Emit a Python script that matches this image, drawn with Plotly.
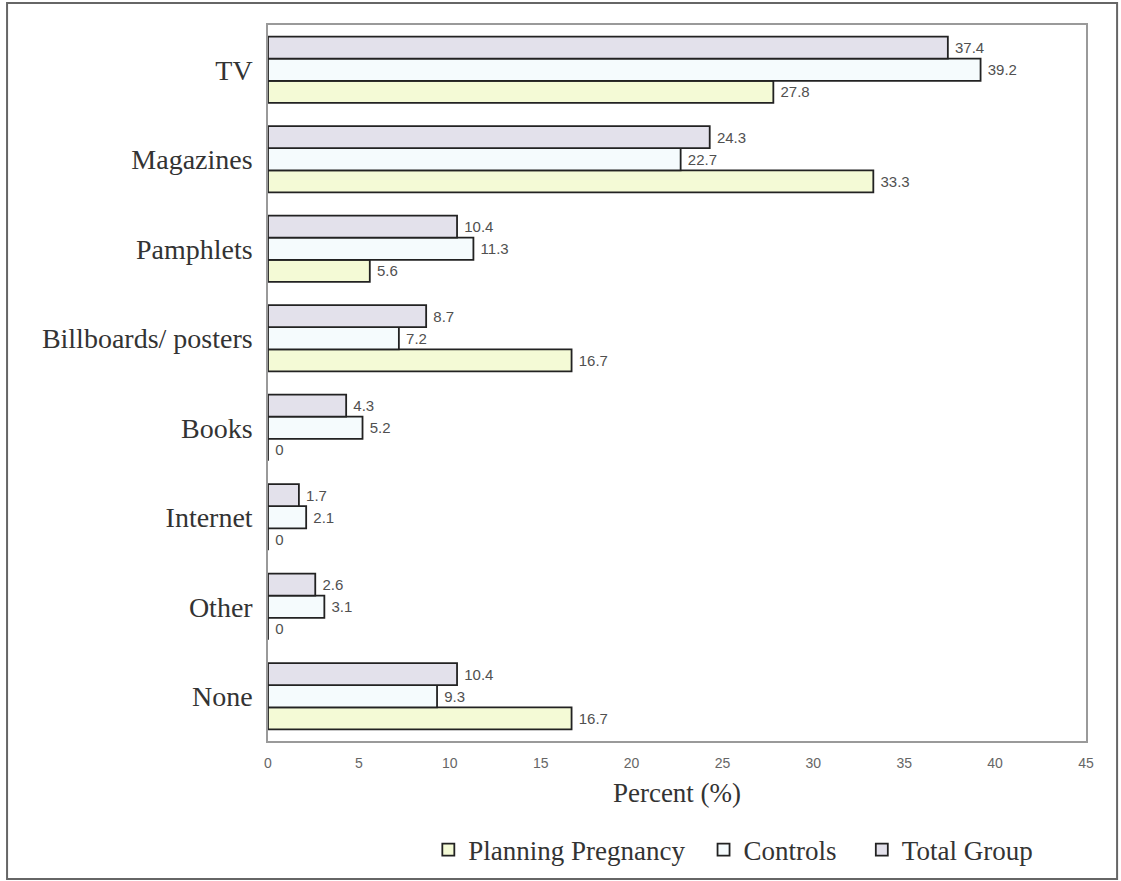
import plotly.graph_objects as go

categories = ["TV", "Magazines", "Pamphlets", "Billboards/ posters", "Books", "Internet", "Other", "None"]
planning = [27.8, 33.3, 5.6, 16.7, 0, 0, 0, 16.7]
controls = [39.2, 22.7, 11.3, 7.2, 5.2, 2.1, 3.1, 9.3]
total = [37.4, 24.3, 10.4, 8.7, 4.3, 1.7, 2.6, 10.4]
series_names = ["Planning Pregnancy", "Controls", "Total Group"]
x_ticks = [0, 5, 10, 15, 20, 25, 30, 35, 40, 45]

SERIF = "Liberation Serif, Times New Roman, serif"
SANS = "Liberation Sans, Arial, sans-serif"
fills = ["#f4fad6", "#f5fbfd", "#e3e1eb"]
legend_pad = ["\u00a0\u00a0", "\u00a0\u00a0\u00a0", ""]
fig = go.Figure()
for name, vals, col, pad in zip(series_names, [planning, controls, total], fills, legend_pad):
    fig.add_trace(go.Bar(
        y=categories, x=vals, name=name + pad, orientation="h",
        marker=dict(color=col, line=dict(color="#222222", width=1.8)),
        text=[f"\u00a0{v:g}" for v in vals], textposition="outside",
        textfont=dict(family=SANS, size=15, color="#505050"),
        cliponaxis=False,
    ))

fig.update_layout(
    width=1121, height=881,
    margin=dict(l=268, r=35, t=25, b=140),
    paper_bgcolor="white", plot_bgcolor="white",
    barmode="group", bargap=0.26, bargroupgap=0,
    showlegend=True,
    legend=dict(orientation="h", x=0.196, y=0.035, xanchor="left", yanchor="middle",
                yref="container",
                font=dict(family=SERIF, size=27, color="#333333"),
                itemwidth=30, tracegroupgap=0),
    xaxis=dict(range=[0, 45], tickvals=x_ticks, showgrid=False, zeroline=False,
               showline=True, mirror=True, linecolor="#9a9a9a", linewidth=1.5,
               ticks="", ticklabelstandoff=8, automargin=False,
               tickfont=dict(family=SANS, size=14, color="#666666"),
               title=dict(text="Percent (%)", standoff=14,
                          font=dict(family=SERIF, size=27, color="#333333"))),
    yaxis=dict(categoryorder="array", categoryarray=categories[::-1], showgrid=False,
               showline=True, mirror=True, linecolor="#9a9a9a", linewidth=1.5,
               ticks="", ticklabelstandoff=8, automargin=False,
               tickfont=dict(family=SERIF, size=28, color="#333333")),
    shapes=[dict(type="rect", xref="paper", yref="paper",
                 x0=-0.319, x1=1.038, y0=-0.1927, y1=1.0307,
                 line=dict(color="#666666", width=2), fillcolor="rgba(0,0,0,0)", layer="below")],
)

fig.write_html("out.html")
